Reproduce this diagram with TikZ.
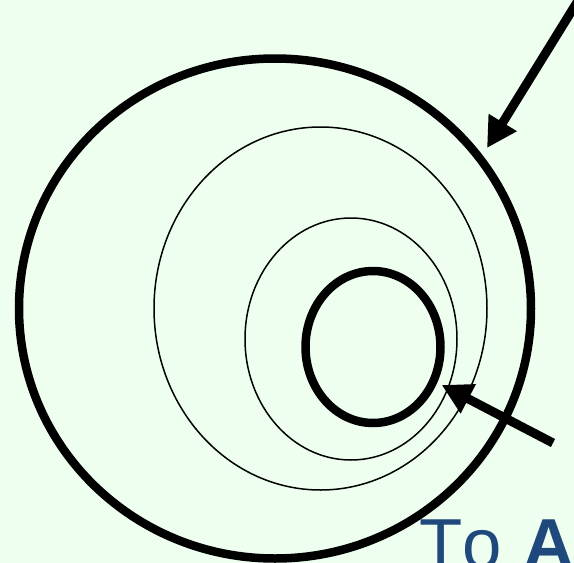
\documentclass[tikz,border=0pt]{standalone}
\usepackage{fontspec}
\setmainfont[Kerning=Off]{Liberation Sans}
\usetikzlibrary{shapes.geometric,arrows.meta}
\definecolor{bgc}{RGB}{238,255,240}
\definecolor{txtblue}{RGB}{31,73,125}
\tikzset{
  ring/.style={draw=black, ellipse, inner sep=0pt, outer sep=0pt},
  thickring/.style={ring, line width=8.5pt},
  thinring/.style={ring, line width=1.5pt},
  pointer/.style={line width=9pt, line cap=butt, -{Triangle[length=30pt,width=31pt]}},
}
\begin{document}
\begin{tikzpicture}[x=1pt,y=-1pt]
\useasboundingbox (0,0) rectangle (574,563);
\fill[bgc] (0,0) rectangle (574,563);
\node[thickring, minimum width=512pt, minimum height=500pt] (outer) at (275,308.5) {};
\node[thinring, minimum width=333pt, minimum height=363pt] (mid) at (320.5,308.5) {};
\node[thinring, minimum width=212pt, minimum height=242pt] (inner) at (351,339) {};
\node[thickring, minimum width=135pt, minimum height=152pt] (core) at (373,347) {};
\coordinate (a1s) at (584,-9);
\coordinate (a1e) at (487,148);
\coordinate (a2s) at (553,443);
\coordinate (a2e) at (441.7,385);
\draw[pointer] (a1s) -- (a1e);
\draw[pointer] (a2s) -- (a2e);
\node[anchor=base west, inner sep=0pt, text=txtblue, font=\fontsize{70.8}{80}\selectfont] (label) at (419.2,568) {To\hspace{0.3em}\textbf{A}};
\end{tikzpicture}
\end{document}
